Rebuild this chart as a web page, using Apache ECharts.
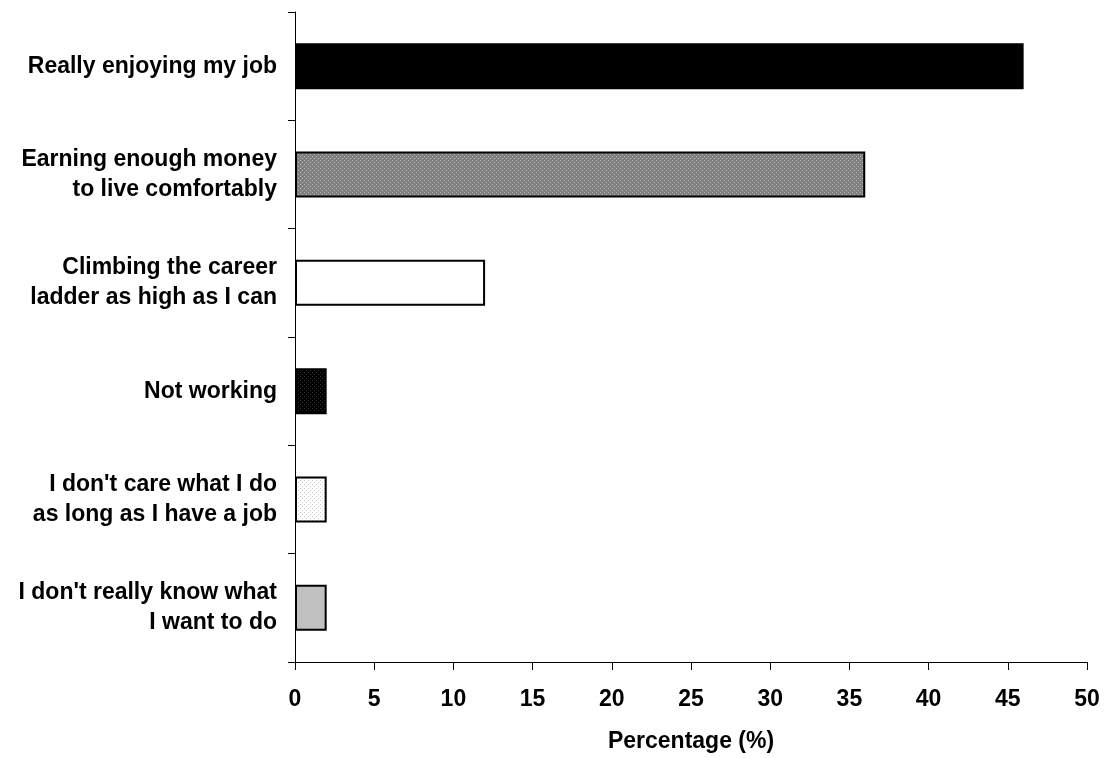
<!DOCTYPE html>
<html>
<head>
<meta charset="utf-8">
<script src="https://cdn.jsdelivr.net/npm/echarts@6/dist/echarts.min.js"></script>
<style>
  html, body { margin: 0; padding: 0; background: #fff; }
  #main { width: 1107px; height: 758px; }
</style>
</head>
<body>
<div id="main"></div>
<script>
var categories = [
    'Really enjoying my job',
    'Earning enough money\nto live comfortably',
    'Climbing the career\nladder as high as I can',
    'Not working',
    "I don't care what I do\nas long as I have a job",
    "I don't really know what\nI want to do"
];
var values = [46, 36, 12, 2, 2, 2];
var xTicks = [0, 5, 10, 15, 20, 25, 30, 35, 40, 45, 50];

// small dotted fills like the old spreadsheet patterns
function dots(bg, fg) {
    var c = document.createElement('canvas');
    c.width = 4;
    c.height = 4;
    var ctx = c.getContext('2d');
    ctx.fillStyle = bg;
    ctx.fillRect(0, 0, 4, 4);
    ctx.fillStyle = fg;
    ctx.fillRect(0, 0, 1, 1);
    ctx.fillRect(2, 2, 1, 1);
    return { image: c, repeat: 'repeat' };
}

var fills = [
    '#000000',
    dots('#808080', '#b8b8b8'),
    '#ffffff',
    dots('#000000', '#333333'),
    dots('#ffffff', '#c8c8c8'),
    '#c0c0c0'
];

var font = 'Liberation Sans';

var myChart = echarts.init(document.getElementById('main'));
var option = {
    animation: false,
    grid: {
        left: 295,
        right: 20,
        top: 12,
        bottom: 95
    },
    xAxis: {
        type: 'value',
        min: xTicks[0],
        max: xTicks[xTicks.length - 1],
        interval: 5,
        name: 'Percentage (%)',
        nameLocation: 'middle',
        nameGap: 68,
        nameTextStyle: { fontFamily: font, fontWeight: 'bold', fontSize: 23, color: '#000' },
        axisLine: { show: true, lineStyle: { color: '#000', width: 1 } },
        axisTick: { show: true, length: 8, lineStyle: { color: '#000' } },
        axisLabel: { margin: 26, fontFamily: font, fontWeight: 'bold', fontSize: 23, color: '#000' },
        splitLine: { show: false }
    },
    yAxis: {
        type: 'category',
        inverse: true,
        data: categories,
        axisLine: { show: true, lineStyle: { color: '#000', width: 1 } },
        axisTick: { show: true, length: 7, lineStyle: { color: '#000' } },
        axisLabel: {
            margin: 18,
            fontFamily: font,
            fontWeight: 'bold',
            fontSize: 23,
            lineHeight: 30,
            color: '#000',
            align: 'right'
        }
    },
    series: [{
        type: 'bar',
        barWidth: 46,
        data: values.map(function(v, i) {
            return {
                value: v,
                itemStyle: { color: fills[i], borderColor: '#000', borderWidth: 2 }
            };
        })
    }]
};
myChart.setOption(option);
</script>
</body>
</html>
